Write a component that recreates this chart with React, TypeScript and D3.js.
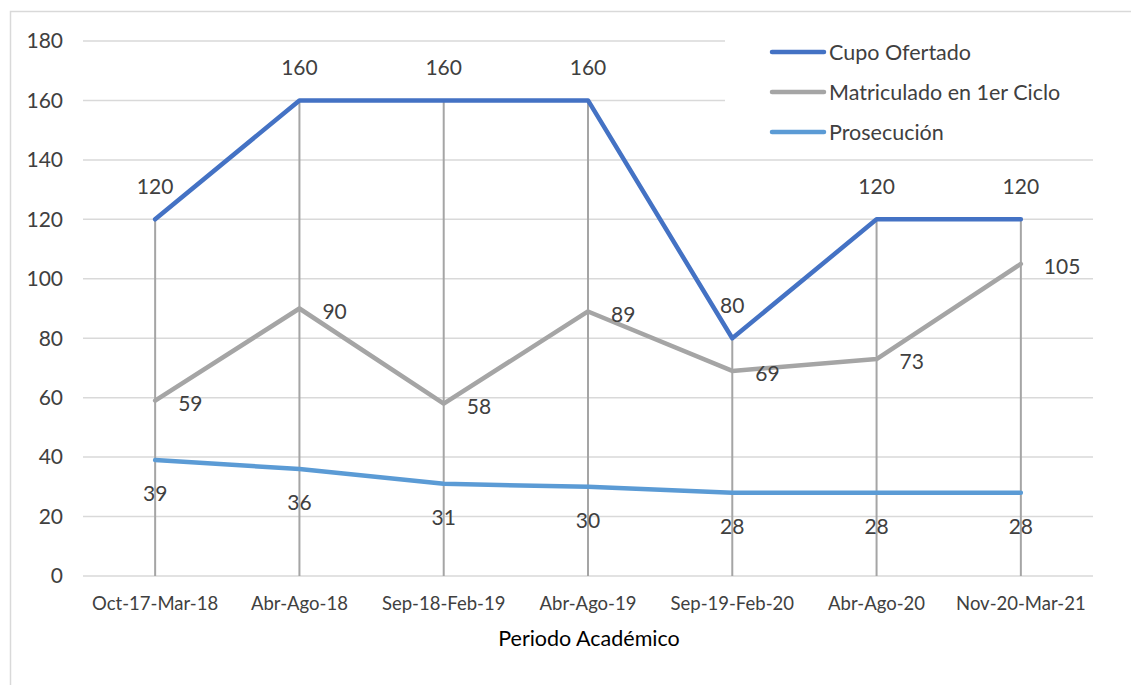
import React, { useEffect, useRef } from 'react';
import * as d3 from 'd3';

const periods = [
  'Oct-17-Mar-18',
  'Abr-Ago-18',
  'Sep-18-Feb-19',
  'Abr-Ago-19',
  'Sep-19-Feb-20',
  'Abr-Ago-20',
  'Nov-20-Mar-21',
];
const cupoOfertado = [120, 160, 160, 160, 80, 120, 120];
const matriculado = [59, 90, 58, 89, 69, 73, 105];
const prosecucion = [39, 36, 31, 30, 28, 28, 28];
const yTicks = [0, 20, 40, 60, 80, 100, 120, 140, 160, 180];

const seriesNames = ['Cupo Ofertado', 'Matriculado en 1er Ciclo', 'Prosecución'];

const App: React.FC = () => {
  const svgRef = useRef<SVGSVGElement>(null);
  const width = 1131;
  const height = 685;

  useEffect(() => {
    if (!svgRef.current) return;
    const svg = d3.select(svgRef.current);
    svg.selectAll('*').remove();

    const font = 'Lato, "Open Sans", sans-serif';
    const textColor = '#404040';

    // outer chart border
    svg.append('rect')
      .attr('x', 10.5)
      .attr('y', 11.5)
      .attr('width', width + 20)
      .attr('height', height + 20)
      .attr('fill', '#fff')
      .attr('stroke', '#D9D9D9')
      .attr('stroke-width', 1.5);

    const x = d3.scaleBand<string>()
      .domain(periods)
      .range([83, 1093])
      .paddingInner(0)
      .paddingOuter(0);
    const cx = (p: string) => (x(p) as number) + x.bandwidth() / 2;

    const y = d3.scaleLinear().domain([0, 180]).range([576, 41]);

    // gridlines
    svg.append('g')
      .selectAll('line')
      .data(yTicks)
      .enter()
      .append('line')
      .attr('x1', 83)
      .attr('x2', 1093)
      .attr('y1', d => y(d))
      .attr('y2', d => y(d))
      .attr('stroke', '#D9D9D9')
      .attr('stroke-width', 1.5);

    // y tick labels
    svg.append('g')
      .selectAll('text')
      .data(yTicks)
      .enter()
      .append('text')
      .attr('x', 63)
      .attr('y', d => y(d))
      .attr('dy', '0.35em')
      .attr('text-anchor', 'end')
      .attr('font-family', font)
      .attr('font-size', 21)
      .attr('fill', textColor)
      .text(d => d);

    // x tick labels
    svg.append('g')
      .selectAll('text')
      .data(periods)
      .enter()
      .append('text')
      .attr('x', d => cx(d))
      .attr('y', 604)
      .attr('dy', '0.35em')
      .attr('text-anchor', 'middle')
      .attr('font-family', font)
      .attr('font-size', 18.5)
      .attr('fill', textColor)
      .text(d => d);

    // axis title
    svg.append('text')
      .attr('x', 589)
      .attr('y', 638)
      .attr('dy', '0.35em')
      .attr('text-anchor', 'middle')
      .attr('font-family', font)
      .attr('font-size', 21.5)
      .attr('fill', '#000')
      .text('Periodo Académico');

    // drop lines
    const maxVals = periods.map((_, i) => Math.max(cupoOfertado[i], matriculado[i], prosecucion[i]));
    svg.append('g')
      .selectAll('line')
      .data(periods)
      .enter()
      .append('line')
      .attr('x1', d => cx(d))
      .attr('x2', d => cx(d))
      .attr('y1', (_, i) => y(maxVals[i]))
      .attr('y2', y(0))
      .attr('stroke', '#A5A5A5')
      .attr('stroke-width', 2);

    const series = [
      { name: seriesNames[0], values: cupoOfertado, color: '#4472C4', pos: 'above' },
      { name: seriesNames[1], values: matriculado, color: '#A5A5A5', pos: 'right' },
      { name: seriesNames[2], values: prosecucion, color: '#5B9BD5', pos: 'below' },
    ];

    const line = d3.line<number>()
      .x((_, i) => cx(periods[i]))
      .y(d => y(d));

    // draw lines in reverse so Cupo stays on top
    [...series].reverse().forEach(s => {
      svg.append('path')
        .datum(s.values)
        .attr('d', line)
        .attr('fill', 'none')
        .attr('stroke', s.color)
        .attr('stroke-width', 4.5)
        .attr('stroke-linejoin', 'round')
        .attr('stroke-linecap', 'round');
    });

    // data labels
    series.forEach(s => {
      svg.append('g')
        .selectAll('text')
        .data(s.values)
        .enter()
        .append('text')
        .attr('x', (_, i) => cx(periods[i]) + (s.pos === 'right' ? 23 : 0))
        .attr('y', d => y(d) + (s.pos === 'above' ? -33 : s.pos === 'below' ? 34 : 3))
        .attr('dy', '0.35em')
        .attr('text-anchor', s.pos === 'right' ? 'start' : 'middle')
        .attr('font-family', font)
        .attr('font-size', 21)
        .attr('fill', textColor)
        .text(d => d);
    });

    // legend
    const legend = svg.append('g');
    legend.append('rect')
      .attr('x', 725)
      .attr('y', 20)
      .attr('width', 400)
      .attr('height', 130)
      .attr('fill', '#fff');
    series.forEach((s, i) => {
      const ly = 52 + i * 40;
      legend.append('line')
        .attr('x1', 772)
        .attr('x2', 824)
        .attr('y1', ly)
        .attr('y2', ly)
        .attr('stroke', s.color)
        .attr('stroke-width', 4.5)
        .attr('stroke-linecap', 'round');
      legend.append('text')
        .attr('x', 829)
        .attr('y', ly)
        .attr('dy', '0.35em')
        .attr('font-family', font)
        .attr('font-size', 21.5)
        .attr('fill', textColor)
        .text(s.name);
    });
  }, []);

  return (
    <div style={{ position: 'absolute', left: 0, top: 0 }}>
      <svg ref={svgRef} width={width} height={height} style={{ display: 'block' }} />
    </div>
  );
};

export default App;
